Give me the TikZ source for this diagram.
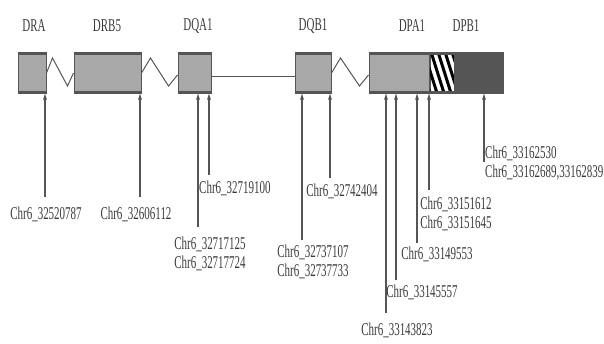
\documentclass[tikz,border=0pt]{standalone}
\usepackage{fontspec}
\setmainfont{Liberation Serif}[FakeStretch=0.61]
\usetikzlibrary{arrows.meta}
\definecolor{edge}{HTML}{555555}
\definecolor{boxfill}{HTML}{A8A8A8}
\definecolor{darkfill}{HTML}{555555}
\definecolor{txt}{HTML}{3A3A3A}
\tikzset{
  genebox/.style={draw=edge, fill=boxfill, line width=1pt, inner sep=0pt, minimum height=38pt},
  lbl/.style={text=txt, font=\fontsize{18}{19}\selectfont, inner sep=0pt, align=center},
  arr/.style={draw=edge, line width=1.1pt, -{Latex[length=7pt,width=4pt]}},
  wire/.style={draw=edge, line width=1pt},
  band/.style={draw=edge, line width=2.6pt}
}
\begin{document}
\begin{tikzpicture}[x=1pt,y=-1pt]
\useasboundingbox (0,0) rectangle (604,343);
% boxes
\node[genebox, minimum width=28pt] (dra) at (32,73) {};
\node[genebox, minimum width=67pt] (drb) at (107.5,73) {};
\node[genebox, minimum width=33pt] (dqa) at (194.5,73) {};
\node[genebox, minimum width=36pt] (dqb) at (313,73) {};
\node[genebox, minimum width=61pt] (dpa) at (399.5,73) {};
\node[genebox, fill=white, minimum width=24pt] (hat) at (442,73) {};
\node[genebox, fill=darkfill, minimum width=49pt] (dpb) at (478.5,73) {};
% hatch
\begin{scope}
\clip (hat.north west) rectangle (hat.south east);
\foreach \s in {-12,-5,...,30} {
  \draw[black, line width=3pt] ([xshift=\s pt]hat.north west) -- ++(12,38);
}
\end{scope}
\draw[edge, line width=1pt] (hat.north west) rectangle (hat.south east);
% thick top/bottom bands
\foreach \b in {dra,drb,dqa,dqb} {
  \draw[band] (\b.north west) -- (\b.north east);
  \draw[band] (\b.south west) -- (\b.south east);
}
\draw[band] (dpa.north west) -- (dpb.north east);
\draw[band] (dpa.south west) -- (dpb.south east);
% zigzags and link
\draw[wire] (dra.east) -- ++(6,-15) -- ++(15,28) -- (drb.west);
\draw[wire] (drb.east) -- ++(9,-15) -- ++(18,28) -- ([yshift=-2pt]dqa.west);
\draw[wire] ([yshift=-3pt]dqa.east) -- ([yshift=-3pt]dqb.west);
\draw[wire] (dqb.east) -- ++(9,-15) -- ++(19,28) -- ([yshift=-2pt]dpa.west);
% gene names
\node[lbl] (ndra) at (34,26) {DRA};
\node[lbl] (ndrb) at (107,26) {DRB5};
\node[lbl] (ndqa) at (198,26) {DQA1};
\node[lbl] (ndqb) at (313,26) {DQB1};
\node[lbl] (ndpa) at (412,26) {DPA1};
\node[lbl] (ndpb) at (466,26) {DPB1};
% arrow foot coordinates
\coordinate (f1) at (45,197);
\coordinate (f2) at (140,197);
\coordinate (f3) at (198,227);
\coordinate (f4) at (209,175);
\coordinate (f5) at (302,240);
\coordinate (f6) at (330,178);
\coordinate (f7) at (386,313);
\coordinate (f8) at (396,280);
\coordinate (f9) at (417,243);
\coordinate (f10) at (429,190);
\coordinate (f11) at (484,162);
\draw[arr] (f1) -- (f1 |- dra.south);
\draw[arr] (f2) -- (f2 |- drb.south);
\draw[arr] (f3) -- (f3 |- dqa.south);
\draw[arr] (f4) -- (f4 |- dqa.south);
\draw[arr] (f5) -- (f5 |- dqb.south);
\draw[arr] (f6) -- (f6 |- dqb.south);
\draw[arr] (f7) -- (f7 |- dpa.south);
\draw[arr] (f8) -- (f8 |- dpa.south);
\draw[arr] (f9) -- (f9 |- dpa.south);
\draw[arr] (f10) -- (f10 |- dpa.south);
\draw[arr] (f11) -- (f11 |- dpb.south);
% position labels
\node[lbl] (l1) at (46,214) {Chr6\_32520787};
\node[lbl] (l2) at (136,214) {Chr6\_32606112};
\node[lbl, anchor=west] (l3) at (199,188) {Chr6\_32719100};
\node[lbl] (l4) at (210,254) {Chr6\_32717125\\Chr6\_32717724};
\node[lbl] (l5) at (313,262) {Chr6\_32737107\\Chr6\_32737733};
\node[lbl] (l6) at (342,191) {Chr6\_32742404};
\node[lbl] (l7) at (397,330) {Chr6\_33143823};
\node[lbl] (l8) at (422,292) {Chr6\_33145557};
\node[lbl] (l9) at (437,254) {Chr6\_33149553};
\node[lbl] (l10) at (456,214) {Chr6\_33151612\\Chr6\_33151645};
\node[lbl, anchor=west, align=left] (l11) at (485,163) {Chr6\_33162530\\Chr6\_33162689,33162839};
\end{tikzpicture}
\end{document}
